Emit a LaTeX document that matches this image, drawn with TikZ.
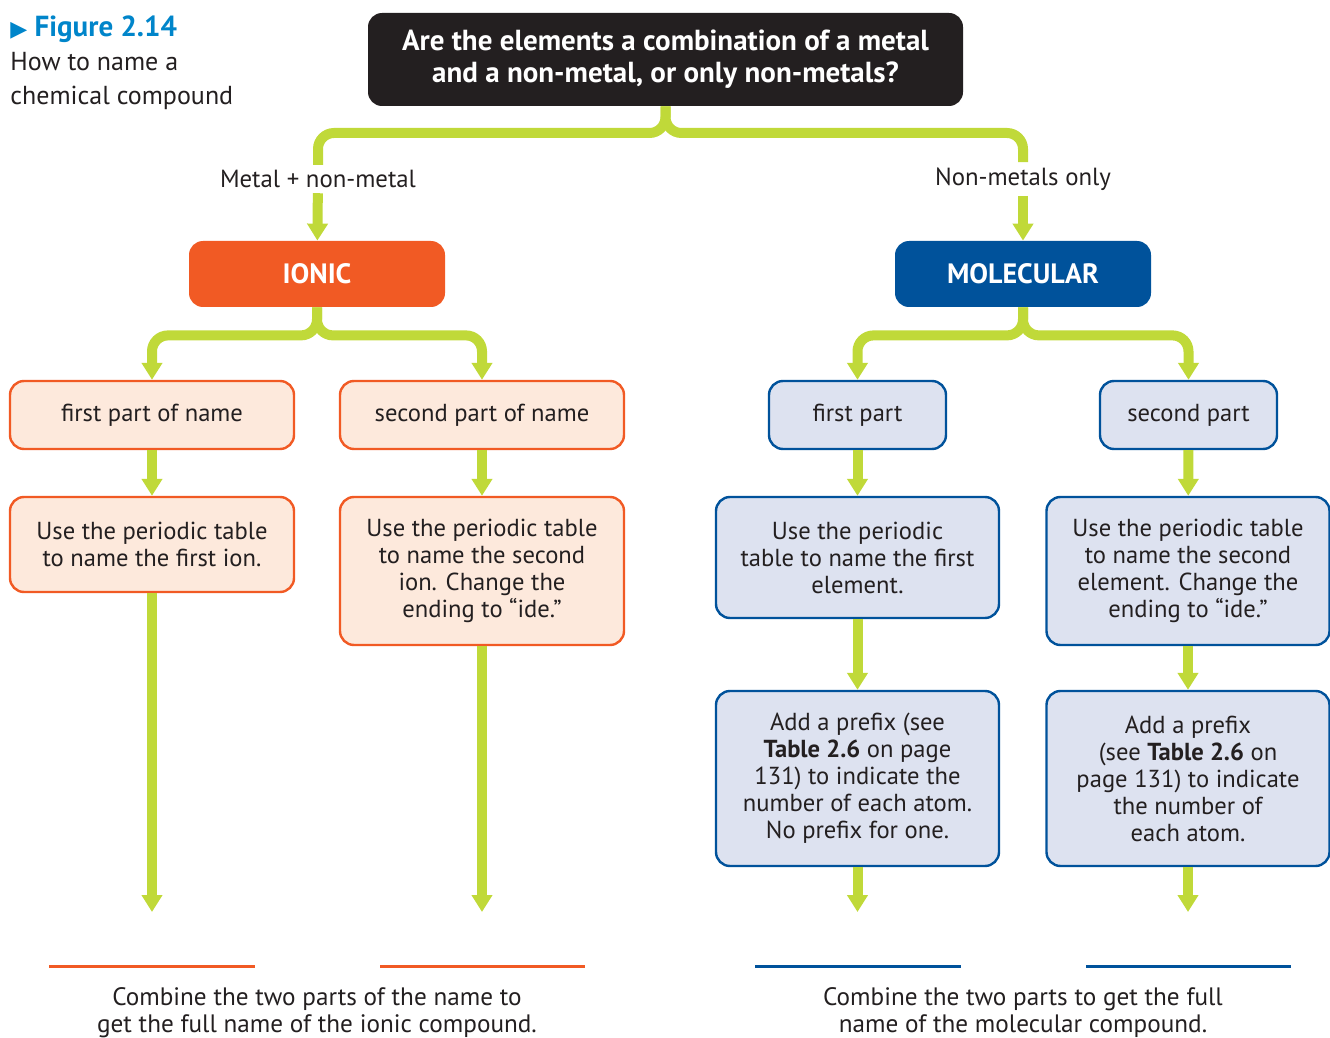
\documentclass[tikz,border=0pt]{standalone}
\usepackage{fontspec}
\setmainfont{PT Sans}
\newfontfamily\symfont{DejaVu Sans}
\usetikzlibrary{arrows.meta}
\definecolor{lime}{RGB}{192,217,57}
\definecolor{ionorange}{RGB}{241,90,36}
\definecolor{ionfill}{RGB}{253,233,220}
\definecolor{molblue}{RGB}{0,82,155}
\definecolor{molfill}{RGB}{221,226,240}
\definecolor{ink}{RGB}{35,31,32}
\definecolor{figblue}{RGB}{0,133,202}

\begin{document}
\begin{tikzpicture}[x=0.5pt,y=-0.5pt]
\tikzset{box/.style = {shape=rectangle,rounded corners=7pt,align=center,text=ink,inner sep=0pt,font=\fontsize{12.3}{13.5}\selectfont}}
\tikzset{ionbox/.style = {box,draw=ionorange,fill=ionfill,line width=1.2pt,minimum width=142pt}}
\tikzset{molbox/.style = {box,draw=molblue,fill=molfill,line width=1.2pt}}
\tikzset{head/.style = {box,text=white,font=\bfseries\fontsize{14}{16}\selectfont,minimum width=128pt,minimum height=33pt}}
\tikzset{label/.style = {text=ink,inner xsep=0pt,inner ysep=2.5pt,font=\fontsize{12.4}{14}\selectfont}}
\tikzset{trunk/.style = {draw=lime,line width=5pt,rounded corners=8pt}}
\tikzset{edge/.style = {draw=lime,line width=5pt,-{Triangle[width=10pt,length=8.5pt]}}}
\tikzset{branch/.style = {edge,rounded corners=8pt}}
\tikzset{blank/.style = {line width=1.5pt}}
\useasboundingbox (0,0) rectangle (1330,1038);
% title
\node[anchor=north west,align=left,inner sep=0pt,text=ink,font=\fontsize{13}{17}\selectfont] (title) at (10,15)
  {{\color{figblue}\bfseries\fontsize{14.5}{17}\selectfont{\symfont\fontsize{11}{17}\selectfont ▶} Figure 2.14}\\How to name a\\chemical compound};
% vertices
\node[box,fill=ink,text=white,font=\bfseries\fontsize{14.5}{16}\selectfont,minimum width=297.5pt,minimum height=46.5pt] (question) at (665.5,59.5)
  {Are the elements a combination of a metal\\and a non-metal, or only non-metals?};
\node[label] (metal) at (318,179) {Metal + non-metal};
\node[label] (nonmetal) at (1023,179) {Non-metals only};
\node[head,fill=ionorange] (ionic) at (317,274) {IONIC};
\node[head,fill=molblue] (molecular) at (1023,274) {MOLECULAR};
\node[ionbox,minimum height=34pt] (ifirst) at (152,415) {first part of name};
\node[ionbox,minimum height=34pt] (isecond) at (482,415) {second part of name};
\node[ionbox,minimum height=47.5pt] (iuse1) at (152,544.5) {Use the periodic table\\to name the first ion.};
\node[ionbox,minimum height=74pt] (iuse2) at (482,571) {Use the periodic table\\to name the second\\ion. Change the\\ending to “ide.”};
\node[molbox,minimum width=88.5pt,minimum height=34pt] (mfirst) at (857.5,415) {first part};
\node[molbox,minimum width=88.5pt,minimum height=34pt] (msecond) at (1188.5,415) {second part};
\node[molbox,minimum width=141.5pt,minimum height=60.5pt] (muse1) at (857.5,557.5) {Use the periodic\\table to name the first\\element.};
\node[molbox,minimum width=141.5pt,minimum height=74pt] (muse2) at (1188,571) {Use the periodic table\\to name the second\\element. Change the\\ending to “ide.”};
\node[molbox,minimum width=141.5pt,minimum height=87.5pt] (madd1) at (857.5,778.5) {Add a prefix (see\\\textbf{Table 2.6} on page\\131) to indicate the\\number of each atom.\\No prefix for one.};
\node[molbox,minimum width=141.5pt,minimum height=87.5pt] (madd2) at (1188,778.5) {Add a prefix\\(see \textbf{Table 2.6} on\\page 131) to indicate\\the number of\\each atom.};
\node[box,font=\fontsize{12.6}{13.5}\selectfont] (icombine) at (317,1013) {Combine the two parts of the name to\\get the full name of the ionic compound.};
\node[box,font=\fontsize{12.6}{13.5}\selectfont] (mcombine) at (1023,1013) {Combine the two parts to get the full\\name of the molecular compound.};
\coordinate (qsplit) at (668,133);
\coordinate (iend1) at (152,912);
\coordinate (iend2) at (482,912);
\coordinate (mend1) at (857.5,912);
\coordinate (mend2) at (1188,912);
%edges
\draw[trunk] (question.south) -- (question.south |- qsplit) -| (metal.north);
\draw[trunk] (question.south) -- (question.south |- qsplit) -| (nonmetal.north);
\draw[edge] (metal) to (ionic);
\draw[edge] (nonmetal) to (molecular);
\draw[branch] (ionic.south) -- ++(0,28) -| (ifirst.north);
\draw[branch] (ionic.south) -- ++(0,28) -| (isecond.north);
\draw[branch] (molecular.south) -- ++(0,28) -| (mfirst.north);
\draw[branch] (molecular.south) -- ++(0,28) -| (msecond.north);
\draw[edge] (ifirst) to (iuse1);
\draw[edge] (isecond) to (iuse2);
\draw[edge] (iuse1) to (iend1);
\draw[edge] (iuse2) to (iend2);
\draw[edge] (mfirst) to (muse1);
\draw[edge] (msecond) to (muse2);
\draw[edge] (muse1) to (madd1);
\draw[edge] (muse2) to (madd2);
\draw[edge] (madd1) to (mend1);
\draw[edge] (madd2) to (mend2);
% blanks
\draw[blank,ionorange] (49,966) -- (255,966);
\draw[blank,ionorange] (380,966) -- (585,966);
\draw[blank,molblue] (755,966) -- (961,966);
\draw[blank,molblue] (1086,966) -- (1291,966);
\end{tikzpicture}
\end{document}
